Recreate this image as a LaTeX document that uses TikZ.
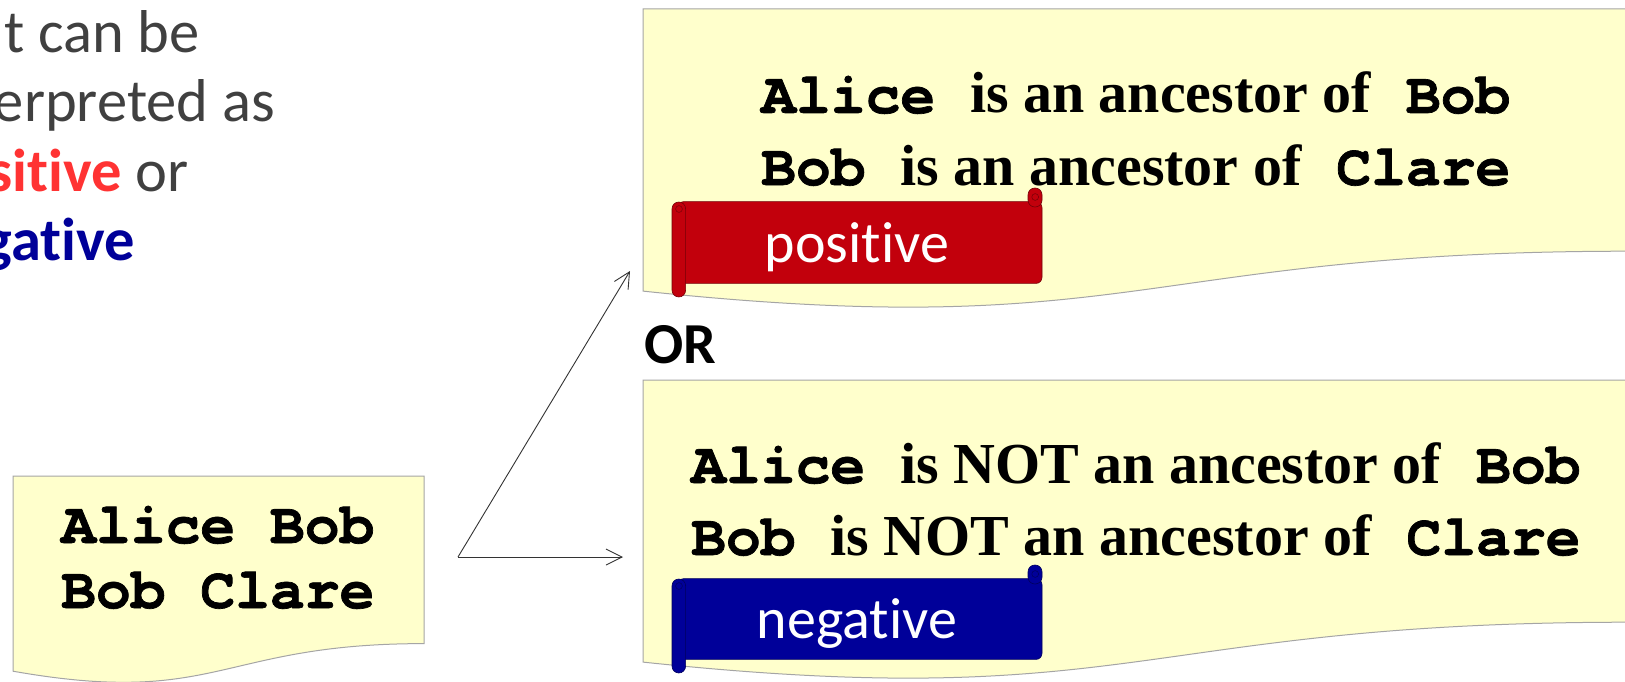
\documentclass[tikz,border=0pt]{standalone}
\usepackage{fontspec}
\usetikzlibrary{arrows.meta}
\newfontfamily\courfont{TeX Gyre Cursor}[BoldFeatures={FakeBold=1.2}]
\newfontfamily\timesfont{Liberation Serif}
\newfontfamily\califont{Carlito}[Ligatures=CommonOff]
\definecolor{docfill}{RGB}{255,255,204}
\definecolor{docline}{RGB}{165,165,165}
\definecolor{scrollred}{RGB}{194,0,12}
\definecolor{scrollblue}{RGB}{0,0,153}
\definecolor{txtgray}{RGB}{64,64,64}
\definecolor{hotred}{RGB}{255,51,51}
\tikzset{
  docshape/.style={fill=docfill, draw=docline, line width=1pt},
  monotxt/.style={font=\courfont\bfseries\fontsize{58}{58}\selectfont, inner sep=0pt, text=black},
  mixtxt/.style={font=\bfseries\fontsize{58}{58}\selectfont, inner sep=0pt, text=black},
  caltxt/.style={font=\califont\fontsize{58}{58}\selectfont, inner sep=0pt},
  lefttxt/.style={font=\califont\fontsize{60.5}{60.5}\selectfont, inner sep=0pt, anchor=base east},
  forkarrow/.style={draw=black!80, line width=0.9pt, -{Straight Barb[length=16pt,width=16pt,line width=0.9pt]}},
  scrollbody/.style={fill=#1, draw=#1!60!black, line width=0.6pt},
}
\newcommand\myscroll[5]{% left right top bottom colour
  \filldraw[scrollbody=#5, rounded corners=6pt] ({#1+6},{#3+13.6}) -- ({#2},{#3+13.6}) -- ({#2},{#4-13.6}) -- ({#1+6},{#4-13.6}) -- cycle;
  \filldraw[scrollbody=#5, rounded corners=6.8pt] ({#2-14},{#3}) rectangle ({#2},{#3+19});
  \draw[#5!60!black, line width=0.5pt] ({#2-6.8},{#3+9}) circle (3.4);
  \filldraw[scrollbody=#5, rounded corners=6.8pt] ({#1},{#3+14}) rectangle ({#1+13.6},{#4});
  \draw[#5!60!black, line width=0.5pt] ({#1+7},{#3+21}) circle (3.4);
}
\begin{document}
\begin{tikzpicture}[x=1pt,y=-1pt]
\useasboundingbox (0,0) rectangle (1625,682);
\fill[white] (0,0) rectangle (1625,682);
\clip (0,0) rectangle (1625,682);

% left text (cut at the left edge)
\node[lefttxt, text=txtgray] (l1) at (200,53) {t can be};
\node[lefttxt, text=txtgray] (l2) at (275,122) {erpreted as};
\node[lefttxt, text=txtgray] (l3) at (189,191) {\textcolor{hotred}{\bfseries sitive} or};
\node[lefttxt, text=scrollblue] (l4) at (135,260) {\bfseries gative};

% small document
\path[docshape] (13,476) -- (424,476) -- (424,643.6) .. controls (218.5,643.6) and (218.5,707.4) .. (13,671.2) -- cycle;
\node[monotxt, anchor=base west] (s1) at (61,543) {Alice Bob};
\node[monotxt, anchor=base west] (s2) at (61,608) {Bob Clare};

% top document
\path[docshape] (643,9) -- (1630,9) -- (1630,251.2) .. controls (1136.5,251.2) and (1136.5,343.3) .. (643,291.1) -- cycle;
\node[mixtxt, anchor=base west] (p1) at (761,113) {\courfont Alice\ \timesfont is an ancestor of\courfont\ Bob};
\node[mixtxt, anchor=base west] (p2) at (761,185) {\courfont Bob\ \timesfont is an ancestor of\courfont\ Clare};
\myscroll{672}{1042}{188}{297}{scrollred}
\node[caltxt, text=white, anchor=base] (pos) at (857,262) {positive};

% OR
\node[caltxt, text=black, anchor=base west] (or) at (644,363) {\bfseries OR};

% bottom document
\path[docshape] (643,380) -- (1630,380) -- (1630,622.2) .. controls (1136.5,622.2) and (1136.5,714.3) .. (643,662.1) -- cycle;
\node[mixtxt, anchor=base west] (n1) at (691,483) {\courfont Alice\ \timesfont is NOT an ancestor of\courfont\ Bob};
\node[mixtxt, anchor=base west] (n2) at (691,555) {\courfont Bob\ \timesfont is NOT an ancestor of\courfont\ Clare};
\myscroll{672}{1042}{565}{673}{scrollblue}
\node[caltxt, text=white, anchor=base] (neg) at (857,638) {negative};

% arrows
\coordinate (fork) at (458,557);
\coordinate (tipP) at (630,271);
\coordinate (tipN) at (623,557);
\draw[forkarrow] (fork) -- (tipP);
\draw[forkarrow] (fork) -- (tipN);
\end{tikzpicture}
\end{document}
